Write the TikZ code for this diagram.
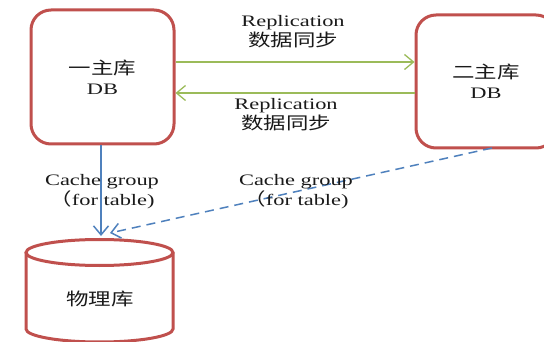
\documentclass[tikz,border=0pt]{standalone}
\usepackage{fontspec}
\setmainfont{Liberation Serif}[FakeStretch=1.4]
\newfontfamily\cjk{Noto Sans CJK SC}[FakeStretch=1.3,Scale=1.08]
\usetikzlibrary{arrows.meta}
\definecolor{boxred}{HTML}{C0504D}
\definecolor{repgreen}{HTML}{9BBB59}
\definecolor{cacheblue}{HTML}{4F81BD}
\definecolor{txt}{HTML}{1A1A1A}
\tikzset{
  dbbox/.style={draw=boxred, line width=3pt, rounded corners=20pt, fill=white,
    align=center, text=txt, font=\fontsize{16}{20}\selectfont},
  lbl/.style={align=center, text=txt, font=\fontsize{16}{20}\selectfont, inner sep=0pt},
  rep/.style={draw=repgreen, line width=1.3pt, -{Straight Barb[length=9pt,width=15pt]}},
  cache/.style={draw=cacheblue, line width=1.5pt, -{Straight Barb[length=9pt,width=15pt]}},
  cyl/.style={draw=boxred, line width=3pt}
}
\begin{document}
\begin{tikzpicture}[x=1pt,y=-1pt]
\useasboundingbox (0,0) rectangle (544,342);
\clip (0,0) rectangle (544,342);
\fill[white] (0,0) rectangle (544,342);

\node[dbbox, minimum width=143pt, minimum height=134pt] (m1) at (102.5,77) {{\cjk 一主库}\\DB};
\node[dbbox, minimum width=140pt, minimum height=133pt] (m2) at (486,81.5) {{\cjk 二主库}\\DB};

% cylinder
\draw[cyl] (26,252.5) -- (26,329) arc[start angle=180, end angle=360, x radius=73.5pt, y radius=13pt] -- (173,252.5);
\draw[cyl] (99.5,252.5) ellipse[x radius=73.5pt, y radius=13pt];
\node[lbl] (phys) at (100,299) {\cjk 物理库};
\coordinate (cyltopA) at (101,236);
\coordinate (cyltopB) at (110,233);
\coordinate (m2out) at (492,148);

% replication
\draw[rep] (m1.east |- 0,62) -- (m2.west |- 0,62);
\draw[rep] (m2.west |- 0,93) -- (m1.east |- 0,93);
\node[lbl] (rep1) at (293,32) {Replication\\{\cjk 数据同步}};
\node[lbl] (rep2) at (286,115) {Replication\\{\cjk 数据同步}};

% cache groups
\draw[cache] (m1.south -| cyltopA) -- (cyltopA);
\draw[cache, dash pattern=on 9pt off 6pt] (m2out) -- (cyltopB);
\node[lbl] (cg1) at (102,192) {Cache group\\{\cjk （}for table)};
\node[lbl] (cg2) at (296,192) {Cache group\\{\cjk （}for table)};
\end{tikzpicture}
\end{document}
